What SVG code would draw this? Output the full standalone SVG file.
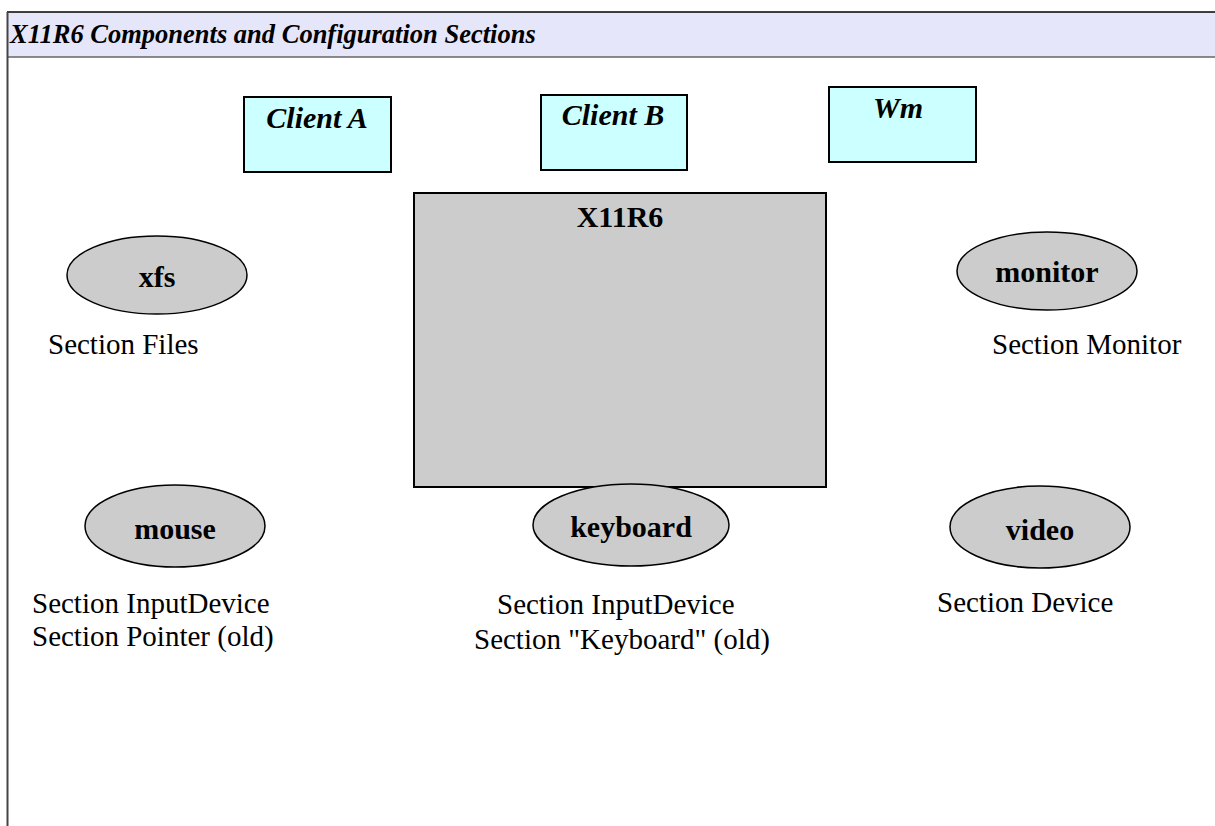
<svg xmlns="http://www.w3.org/2000/svg" width="1215" height="826" viewBox="0 0 1215 826">
<style>
.t{font-family:"Liberation Serif","Times New Roman",serif;fill:#000}
.hd{font-size:26.5px;font-weight:bold;font-style:italic}
.cl{font-size:30px;font-weight:bold;font-style:italic;text-anchor:middle}
.nb{font-size:30px;font-weight:bold;text-anchor:middle}
.sec{font-size:29px}
.box{fill:#ccffff;stroke:#000;stroke-width:2}
.srv{fill:#cccccc;stroke:#000;stroke-width:2}
.ell{fill:#cccccc;stroke:#000;stroke-width:1.5}
</style>
<rect width="1215" height="826" fill="#fff"/>
<g id="frame">
<rect x="7" y="12" width="1210" height="45" fill="#e6e6fa"/>
<line x1="7" y1="12" x2="1215" y2="12" stroke="#000" stroke-width="1.5"/>
<line x1="7" y1="57" x2="1215" y2="57" stroke="#666" stroke-width="1.5"/>
<line x1="7.5" y1="12" x2="7.5" y2="826" stroke="#444" stroke-width="2"/>
<text class="t hd" x="10" y="43">X11R6 Components and Configuration Sections</text>
</g>
<g id="clientA"><rect class="box" x="244" y="97" width="147" height="75"/><text class="t cl" x="317" y="128">Client A</text></g>
<g id="clientB"><rect class="box" x="541" y="95" width="146" height="75"/><text class="t cl" x="613" y="125">Client B</text></g>
<g id="wm"><rect class="box" x="829" y="87" width="147" height="75"/><text class="t cl" x="898" y="118">Wm</text></g>
<g id="x11r6"><rect class="srv" x="414" y="193" width="412" height="294"/><text class="t nb" x="620" y="227">X11R6</text></g>
<g id="xfs"><ellipse class="ell" cx="157" cy="275" rx="90" ry="39"/><text class="t nb" x="157" y="287">xfs</text>
<text class="t sec" x="48" y="354">Section Files</text></g>
<g id="monitor"><ellipse class="ell" cx="1047" cy="271" rx="90" ry="39"/><text class="t nb" x="1047" y="282">monitor</text>
<text class="t sec" x="992" y="354">Section Monitor</text></g>
<g id="mouse"><ellipse class="ell" cx="175" cy="526" rx="90" ry="41"/><text class="t nb" x="175" y="539">mouse</text>
<text class="t sec" x="32" y="613">Section InputDevice</text>
<text class="t sec" x="32" y="646">Section Pointer (old)</text></g>
<g id="keyboard"><ellipse class="ell" cx="631" cy="525" rx="98" ry="41"/><text class="t nb" x="631" y="537">keyboard</text>
<text class="t sec" x="497" y="614">Section InputDevice</text>
<text class="t sec" x="474" y="649">Section "Keyboard" (old)</text></g>
<g id="video"><ellipse class="ell" cx="1040" cy="527" rx="90" ry="41"/><text class="t nb" x="1040" y="540">video</text>
<text class="t sec" x="937" y="612">Section Device</text></g>
<g id="connectors"></g>
</svg>
